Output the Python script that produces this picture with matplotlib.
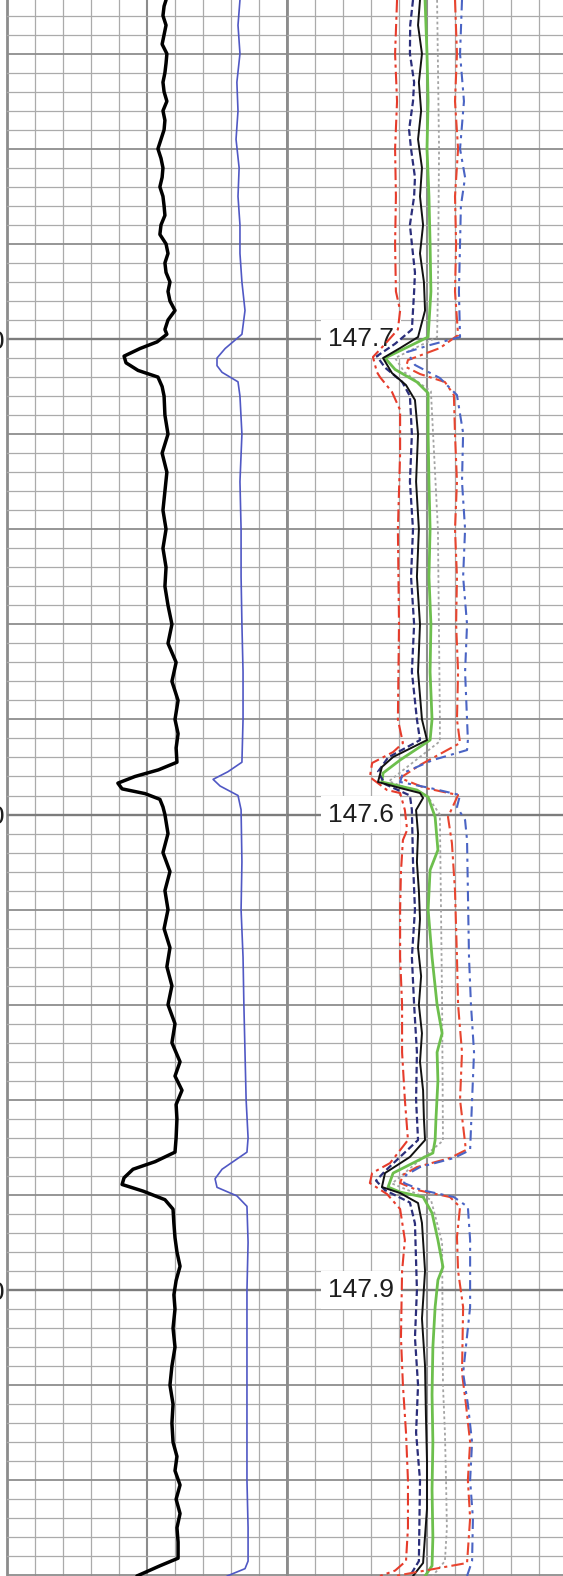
import numpy as np
import matplotlib.pyplot as plt

# depth window of the scanned log strip (m) and annotations
top_depth, base_depth = 1464.35, 1630.07
label_depths = [1500, 1550, 1600]
depth_labels = ["1500", "1550", "1600"]
marker_labels = ["147.7", "147.6", "147.9"]
marker_x = 26.4

# track 1 curves: (depth, reading) pairs
trk1_black = [
    (1464.35, 56.8), (1465, 56.1), (1466, 55.7), (1467, 56.8), (1468, 56.1), (1469, 55.4),
    (1470, 57.1), (1471, 56.8), (1472, 56.4), (1473, 55.7), (1474, 56.1), (1475, 57.1),
    (1476, 55.7), (1477, 56.4), (1478, 56.1), (1479, 55.0), (1480, 53.9), (1481, 55.0),
    (1482, 55.7), (1483, 55.4), (1484, 54.6), (1485, 55.7), (1486, 56.1), (1487, 56.4),
    (1488, 55.0), (1489, 54.6), (1490, 56.8), (1491, 57.5), (1492, 56.4), (1493, 56.8),
    (1494, 58.2), (1495, 57.5), (1496, 58.2), (1497, 60.0), (1498, 57.5), (1499, 56.4),
    (1499.5, 57.1), (1500.3, 53.6), (1501, 47.5), (1501.8, 41.8), (1502.5, 42.5),
    (1503.3, 46.8), (1504, 53.9), (1505, 55.4), (1506, 56.1), (1508, 56.4), (1510, 57.5),
    (1512, 55.4), (1514, 57.1), (1516, 56.4), (1518, 55.7), (1520, 56.8), (1522, 55.7),
    (1524, 56.8), (1526, 56.4), (1528, 57.5), (1530, 58.9), (1532, 57.5), (1534, 60.4),
    (1536, 58.9), (1538, 61.1), (1540, 60.0), (1541.5, 61.1), (1543, 60.4), (1544.5, 60.7),
    (1545.3, 54.1), (1546, 45.7), (1546.7, 39.6), (1547.3, 41.1), (1547.8, 49.3),
    (1548.4, 54.6), (1549.2, 55.7), (1550, 56.4), (1552, 57.5), (1554, 55.7), (1556, 58.2),
    (1558, 56.4), (1560, 57.5), (1562, 56.1), (1564, 58.2), (1566, 57.1), (1568, 58.9),
    (1570, 57.5), (1572, 60.0), (1574, 58.9), (1576, 61.8), (1577.5, 60.0), (1579, 62.5),
    (1580.5, 60.4), (1582, 60.7), (1584, 60.4), (1585.5, 60.0), (1586.5, 52.9),
    (1587.3, 45.0), (1588.2, 41.8), (1588.9, 41.1), (1589.6, 48.6), (1590.5, 56.4),
    (1591.5, 59.3), (1593, 59.6), (1594.5, 60.0), (1596, 60.7), (1597.5, 61.8), (1599, 60.4),
    (1600.5, 59.6), (1602, 60.0), (1604, 59.3), (1606, 60.0), (1608, 58.9), (1610, 58.2),
    (1612, 59.3), (1614, 58.9), (1616, 59.3), (1617.5, 60.7), (1619, 60.0), (1620.5, 61.8),
    (1622, 60.4), (1623.5, 61.8), (1625, 60.7), (1626.5, 61.1), (1628.2, 61.1),
    (1629, 54.6), (1630.07, 46.4),
]
trk1_blue = [
    (1464.35, 83.2), (1467, 82.5), (1470, 83.2), (1473, 82.1), (1476, 82.5), (1479, 81.8),
    (1482, 82.9), (1485, 82.5), (1488, 83.2), (1491, 83.2), (1494, 83.9), (1497, 85.0),
    (1499.5, 83.9), (1501, 77.9), (1502, 75.0), (1502.8, 75.0), (1503.5, 76.8),
    (1504.5, 82.5), (1506, 83.2), (1510, 83.9), (1515, 83.2), (1520, 83.6), (1525, 83.6),
    (1530, 83.9), (1535, 84.3), (1540, 84.3), (1544.5, 83.9), (1545.5, 78.9),
    (1546.3, 73.6), (1547, 76.1), (1548, 82.5), (1549.5, 83.6), (1555, 83.9), (1560, 83.6),
    (1565, 84.3), (1570, 84.6), (1575, 85.0), (1580, 85.4), (1584, 86.1), (1585.5, 85.7),
    (1587.3, 76.8), (1588.3, 74.3), (1589.2, 75.0), (1590.1, 82.1), (1591.2, 85.7),
    (1595, 86.1), (1600, 85.7), (1610, 85.7), (1620, 85.7), (1625, 86.1), (1628.5, 86.1),
    (1629.3, 85.0), (1630.07, 78.6),
]

# track 2 curves
trk2_red_left = [
    (1464.35, 39.3), (1470, 38.6), (1475, 39.3), (1480, 38.6), (1485, 38.9), (1490, 38.6),
    (1495, 38.9), (1497, 40.4), (1499, 39.6), (1500.53, 35.0), (1501.89, 30.7),
    (1503.47, 32.1), (1504.0, 33.2), (1505.57, 37.5), (1507.47, 40.4), (1512, 40.4),
    (1520, 39.6), (1530, 40.0), (1540, 39.6), (1542.48, 41.4), (1543.43, 37.9),
    (1544.58, 30.4), (1546.06, 29.6), (1547.42, 35.7), (1547.74, 40.4), (1549.53, 42.1),
    (1551.63, 42.9), (1552.68, 41.4), (1556, 40.7), (1560, 40.4), (1565, 40.4),
    (1570, 41.1), (1575, 41.1), (1580, 42.1), (1584.23, 43.2), (1586.65, 36.8),
    (1587.7, 30.4), (1588.75, 29.6), (1589.9, 35.7), (1591.48, 40.4), (1594.74, 42.1),
    (1598, 41.1), (1605, 40.7), (1610, 41.4), (1615, 42.5), (1620, 43.2), (1625, 43.2),
    (1628.5, 42.5), (1629.5, 38.6), (1630.07, 33.2),
]
trk2_navy = [
    (1464.35, 45.0), (1467, 44.0), (1470, 43.9), (1473, 45.4), (1475, 45.0), (1478, 43.6),
    (1480, 44.3), (1483, 45.7), (1485, 45.4), (1488, 43.9), (1490, 44.6), (1493, 45.7),
    (1495, 45.4), (1499, 44.6), (1500.5, 38.6), (1501.8, 32.1), (1503, 35.0),
    (1504.5, 41.1), (1506, 43.9), (1510, 44.6), (1515, 43.9), (1520, 45.0), (1525, 44.3),
    (1530, 45.4), (1535, 44.6), (1540, 46.4), (1542.17, 47.5), (1544.0, 36.1),
    (1545.5, 32.5), (1546.8, 35.0), (1548.0, 43.9), (1549.5, 44.6), (1555, 45.0),
    (1560, 45.7), (1565, 44.6), (1570, 45.4), (1575, 46.4), (1580, 46.1), (1584.23, 46.8),
    (1586, 40.4), (1587.5, 35.0), (1588.5, 31.8), (1589.5, 35.0), (1590.8, 43.9),
    (1593, 45.7), (1600, 46.4), (1605, 45.7), (1610, 46.8), (1615, 46.1), (1620, 47.5),
    (1628.5, 47.1), (1630.07, 43.9),
]
trk2_black = [
    (1464.35, 47.5), (1467, 46.8), (1470, 48.2), (1473, 47.1), (1476, 47.9), (1479, 46.8),
    (1482, 48.2), (1485, 47.5), (1488, 48.6), (1491, 47.5), (1494, 48.9), (1497, 49.3),
    (1499.79, 46.8), (1500.95, 40.4), (1502.0, 34.3), (1503.58, 37.5), (1504.84, 42.5),
    (1506.41, 45.7), (1510, 46.8), (1515, 46.1), (1520, 47.1), (1525, 46.4), (1530, 47.5),
    (1535, 46.8), (1540, 48.2), (1542.17, 50.0), (1543.95, 37.9), (1545.0, 33.9),
    (1546.58, 32.5), (1547.21, 40.4), (1547.74, 47.5), (1548.26, 48.6), (1549.53, 46.1),
    (1552, 46.8), (1555, 46.4), (1558, 47.1), (1561, 47.5), (1564, 46.8), (1567, 47.9),
    (1570, 47.1), (1573, 48.2), (1576, 47.5), (1579, 48.6), (1582, 48.9), (1584.23, 49.3),
    (1586.01, 43.9), (1587.7, 35.0), (1589.17, 33.9), (1589.8, 40.4), (1590.85, 46.8),
    (1592.95, 48.2), (1598, 49.3), (1603, 48.2), (1608, 49.3), (1613, 49.6), (1618, 50.0),
    (1623, 50.0), (1628.7, 48.6), (1630.07, 45.0),
]
trk2_green = [
    (1464.35, 49.3), (1470, 50.0), (1475, 50.4), (1480, 50.0), (1485, 50.7), (1490, 51.1),
    (1495, 51.4), (1499.79, 50.4), (1502.0, 35.0), (1503.2, 38.6), (1504.52, 46.4),
    (1505.68, 50.4), (1510, 50.4), (1515, 50.7), (1520, 51.1), (1525, 50.7), (1530, 51.4),
    (1535, 51.1), (1540, 51.8), (1542.17, 51.1), (1544.27, 40.4), (1545.64, 34.3),
    (1546.58, 33.9), (1547.42, 46.4), (1548.16, 50.4), (1550.26, 52.9), (1553.73, 53.9),
    (1555.84, 51.1), (1560, 50.4), (1565, 51.8), (1570, 53.6), (1573, 55.4), (1575, 53.6),
    (1578, 53.9), (1582, 53.2), (1584.23, 52.9), (1585.59, 52.1), (1587.7, 37.9),
    (1589.17, 36.1), (1589.7, 40.4), (1590.22, 48.6), (1591.9, 51.8), (1594.74, 53.9),
    (1597.58, 55.7), (1598.95, 53.9), (1601.79, 52.9), (1606, 52.1), (1611, 51.8),
    (1616, 52.1), (1621, 51.8), (1626, 52.1), (1629, 51.8), (1630.07, 49.3),
]
trk2_grey = [
    (1464.35, 53.6), (1480, 54.3), (1495, 53.9), (1499.8, 53.6), (1502.0, 38.6),
    (1503.5, 42.0), (1505.5, 51.4), (1520, 53.9), (1540, 54.6), (1542.3, 54.6),
    (1546.5, 36.4), (1548.0, 50.0), (1550, 54.6), (1570, 55.4), (1584.3, 55.7),
    (1588.8, 37.5), (1590.5, 51.4), (1595, 55.4), (1610, 55.7), (1615, 56.4), (1620, 56.8),
    (1625, 57.1), (1628.5, 56.4), (1630.07, 52.0),
]
trk2_red_right = [
    (1464.35, 60.0), (1470, 60.7), (1475, 60.0), (1480, 61.1), (1485, 60.0), (1490, 60.4),
    (1495, 60.0), (1499.58, 61.1), (1500.95, 54.6), (1502.21, 43.2), (1502.94, 42.5),
    (1503.68, 47.5), (1504.52, 56.4), (1505.89, 59.6), (1510, 60.0), (1515, 60.7),
    (1520, 60.0), (1525, 60.7), (1530, 60.4), (1535, 61.1), (1540, 60.7), (1542.48, 61.8),
    (1544.79, 47.5), (1546.16, 40.4), (1547.21, 49.3), (1547.95, 61.1), (1550.26, 57.5),
    (1553.0, 58.9), (1558, 60.0), (1565, 60.7), (1570, 61.1), (1575, 62.5), (1580, 61.8),
    (1585.28, 63.9), (1586.12, 58.2), (1587.07, 46.4), (1587.91, 41.4), (1588.75, 40.4),
    (1589.48, 46.4), (1590.22, 58.2), (1591.27, 61.8), (1594.43, 60.7), (1598, 61.1),
    (1601.79, 62.9), (1608.73, 62.5), (1612, 63.9), (1616, 65.4), (1620, 64.6),
    (1624, 65.4), (1628.7, 64.3), (1630.07, 38.6),
]
trk2_blue_right = [
    (1464.35, 62.5), (1470, 61.8), (1475, 63.2), (1480, 61.8), (1483, 63.6), (1486, 62.1),
    (1490, 61.8), (1495, 61.4), (1499.79, 61.8), (1500.63, 51.1), (1501.37, 42.9),
    (1502.73, 45.7), (1504.1, 54.6), (1505.89, 60.7), (1509.88, 62.9), (1515, 62.5),
    (1520, 63.6), (1525, 62.9), (1530, 64.3), (1535, 63.6), (1540, 64.3), (1542.17, 64.6),
    (1543.22, 64.3), (1544.27, 52.1), (1545.64, 41.4), (1546.58, 40.4), (1547.21, 51.1),
    (1547.95, 61.8), (1549.21, 60.7), (1550.58, 63.6), (1552.68, 64.3), (1558, 64.6),
    (1565, 65.0), (1570, 65.7), (1575, 66.8), (1580, 66.1), (1585.28, 65.4),
    (1586.12, 59.6), (1587.07, 47.5), (1587.91, 42.5), (1588.75, 41.8), (1589.48, 47.9),
    (1590.22, 59.6), (1591.27, 64.6), (1594.74, 65.4), (1601.79, 65.4), (1608.73, 62.9),
    (1612, 64.6), (1616, 66.1), (1620, 65.4), (1624, 66.4), (1628.5, 66.1), (1630.07, 64.3),
]

fig = plt.figure(figsize=(5.63, 15.76), dpi=100)
ax1 = fig.add_axes([7 / 563, 0, 280 / 563, 1])
ax2 = fig.add_axes([287 / 563, 0, 280 / 563, 1], sharey=ax1)


def draw_grid(ax):
    for x in np.arange(0, 101, 10):
        if x in (0, 100):
            lw, col = 2.0, "#8c8c8c"
        elif x == 50:
            lw, col = 1.5, "#8c8c8c"
        else:
            lw, col = 0.9, "#ababab"
        ax.axvline(x, color=col, lw=lw, zorder=1, clip_on=False)
    for d in np.arange(1466, 1631, 2):
        if d % 50 == 0:
            lw, col = 1.7, "#7c7c7c"
        elif d % 10 == 0:
            lw, col = 1.3, "#8e8e8e"
        else:
            lw, col = 0.9, "#ababab"
        ax.axhline(d, color=col, lw=lw, zorder=1)
    ax.set_xlim(0, 100)
    ax.set_xticks([])
    for s in ax.spines.values():
        s.set_visible(False)


def draw_curve(ax, pts, **kw):
    arr = np.array(pts)
    ax.plot(arr[:, 1], arr[:, 0], zorder=3, solid_capstyle="round",
            solid_joinstyle="round", **kw)


draw_grid(ax1)
draw_grid(ax2)
ax1.set_ylim(base_depth, top_depth)

draw_curve(ax1, trk1_black, color="black", lw=2.5)
draw_curve(ax1, trk1_blue, color="#5058c4", lw=1.2)

draw_curve(ax2, trk2_red_left, color="#e63b2b", lw=1.5, ls=(0, (6, 2, 1.5, 2)))
draw_curve(ax2, trk2_grey, color="#a4a4a4", lw=1.3, ls=(0, (1.5, 1.5)))
draw_curve(ax2, trk2_green, color="#6dbf4d", lw=2.0)
draw_curve(ax2, trk2_navy, color="#2b2e7a", lw=1.6, ls=(0, (3, 1.5)))
draw_curve(ax2, trk2_black, color="#111111", lw=1.4)
draw_curve(ax2, trk2_red_right, color="#e8452f", lw=1.5, ls=(0, (6, 2, 1.5, 2)))
draw_curve(ax2, trk2_blue_right, color="#4a64c4", lw=1.5, ls=(0, (5, 2.5, 1.5, 2.5)))

for d, lab in zip(label_depths, marker_labels):
    ax2.text(marker_x, d, lab, ha="center", va="center", fontsize=19,
             family="Liberation Sans", color="#1e1e1e", zorder=2,
             bbox=dict(boxstyle="square,pad=0.25", fc="white", ec="none"))

# depth labels sit at the cropped left edge, as on the scan
ax1.set_yticks(label_depths)
ax1.set_yticklabels(depth_labels, fontsize=19, family="Liberation Sans", color="#1e1e1e")
ax1.tick_params(axis="y", length=0, pad=2)
ax2.tick_params(axis="y", length=0, labelleft=False)

fig.savefig("out.png", dpi=100)
